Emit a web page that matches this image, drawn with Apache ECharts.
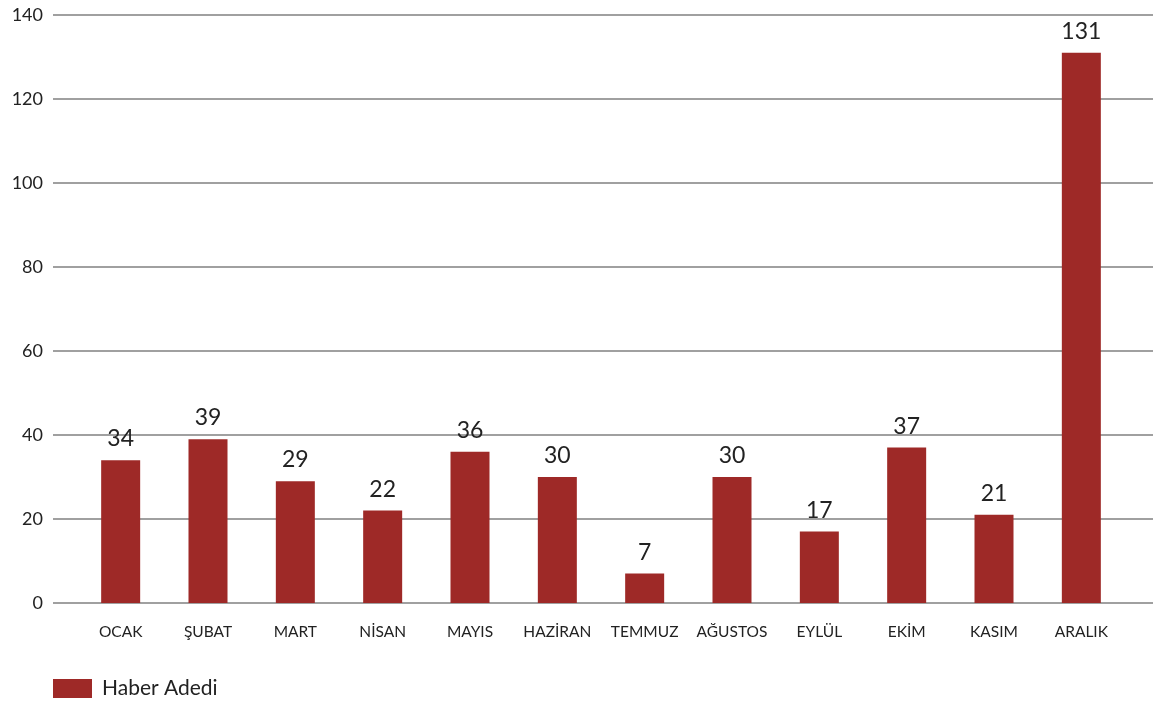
<!DOCTYPE html>
<html><head><meta charset="utf-8">
<script src="https://cdn.jsdelivr.net/npm/echarts@6/dist/echarts.min.js"></script>
<style>html,body{margin:0;padding:0;background:#fff}#c{width:1153px;height:701px}</style>
</head><body><div id="c"></div>
<script>
const categories = ['OCAK','ŞUBAT','MART','NİSAN','MAYIS','HAZİRAN','TEMMUZ','AĞUSTOS','EYLÜL','EKİM','KASIM','ARALIK'];
const values = [34,39,29,22,36,30,7,30,17,37,21,131];
const yTicks = [0,20,40,60,80,100,120,140];
const seriesName = 'Haber Adedi';
const font = 'Lato, "Open Sans", sans-serif';
const chart = echarts.init(document.getElementById('c'));
chart.setOption({
  animation:false,
  textStyle:{fontFamily:font},
  legend:{left:48, top:673, itemWidth:39, itemHeight:19, itemGap:10, icon:'rect',
    textStyle:{fontSize:21, color:'#222', fontFamily:font, padding:[0,0,0,5]}, data:[seriesName]},
  grid:[
    {left:53, right:0, top:15, bottom:98, containLabel:false},
    {left:77, right:28, top:15, bottom:98, containLabel:false}
  ],
  xAxis:[
    {gridIndex:0, type:'category', data:categories, show:false},
    {gridIndex:1, type:'category', data:categories,
      axisLine:{show:false}, axisTick:{show:false},
      axisLabel:{interval:0, fontSize:15.5, color:'#222', margin:21, fontFamily:font}}
  ],
  yAxis:[
    {gridIndex:0, type:'value', min:yTicks[0], max:yTicks[yTicks.length-1], interval:20,
      axisLine:{show:false}, axisTick:{show:false},
      axisLabel:{fontSize:18, color:'#222', margin:10, fontFamily:font},
      splitLine:{lineStyle:{color:'#a0a0a0', width:2}}},
    {gridIndex:1, type:'value', min:0, max:140, interval:20, show:false, splitLine:{show:false}}
  ],
  series:[{
    name:seriesName, type:'bar', xAxisIndex:1, yAxisIndex:1, data:values, barWidth:39,
    itemStyle:{color:'#9e2927'},
    label:{show:true, position:'top', distance:10, fontSize:23, color:'#222', fontFamily:font}
  }]
});
</script></body></html>
